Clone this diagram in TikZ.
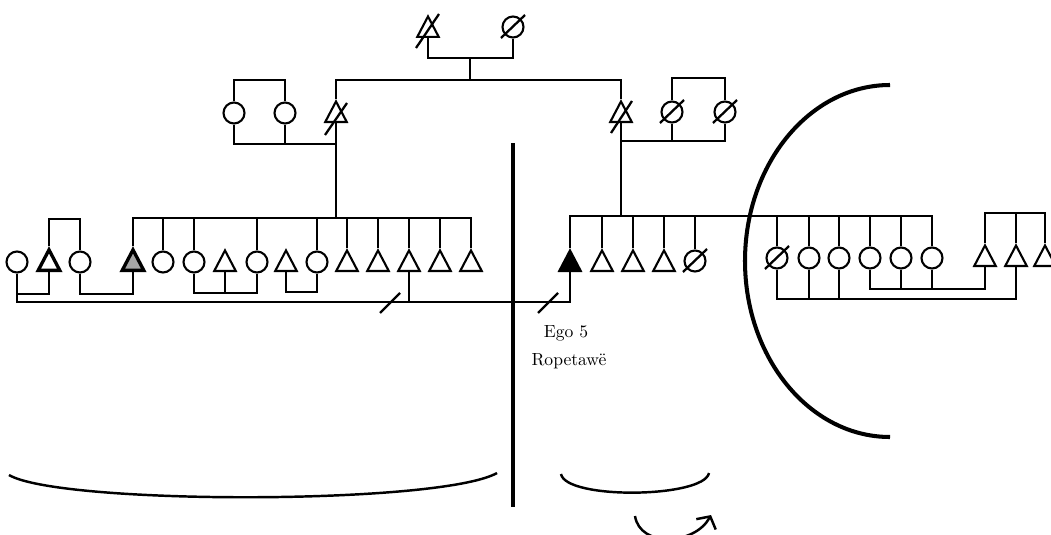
\documentclass[tikz,border=0pt]{standalone}
\usetikzlibrary{shapes.geometric, arrows.meta}

\tikzset{
  male/.style={shape=isosceles triangle, shape border rotate=90, isosceles triangle apex angle=56,
    isosceles triangle stretches, minimum width=0.43cm, minimum height=0.41cm,
    inner sep=0pt, draw, line width=1.2pt, anchor=south},
  female/.style={shape=circle, draw, line width=1.2pt, minimum size=0.42cm, inner sep=0pt},
  kin/.style={line width=1.15pt},
  slash/.style={line width=1.3pt},
  bar/.style={line width=2.3pt},
  bowl/.style={line width=1.4pt}
}

\begin{document}
\begin{tikzpicture}[x=0.02cm, y=-0.02cm]
	\useasboundingbox (0,0) rectangle (1051,534);
	\clip (0,0) rectangle (1051,534);

	% first generation
	\node[male] (gA) at (428,38){};
	\node[female] (gB) at (513,27){};
	\draw[slash] (gA.south) +(-12,10) -- +(11,-24);
	\draw[slash] (gB.center) +(-12,11) -- +(12,-12);
	\coordinate (cpl0) at (470,58);
	\coordinate (sib0) at (470,80);
	\draw[kin] (gA.south) |- (cpl0) -| (gB.south);
	\draw[kin] (cpl0) -- (sib0);

	% second generation
	\node[male] (fL) at (336,123){};
	\node[female] (wL1) at (234,113){};
	\node[female] (wL2) at (285,113){};
	\node[male] (fR) at (621,123){};
	\node[female] (wR1) at (672,112){};
	\node[female] (wR2) at (725,112){};
	\draw[slash] (fL.south) +(-11,12) -- +(11,-20);
	\draw[slash] (fR.south) +(-10,10) -- +(11,-22);
	\draw[slash] (wR1.center) +(-12,11) -- +(12,-12);
	\draw[slash] (wR2.center) +(-12,11) -- +(12,-12);
	\draw[kin] (fL.north) |- (sib0) -| (fR.north);
	\coordinate (topW) at (260,80);
	\coordinate (cplL) at (285,144);
	\draw[kin] (wL1.north) |- (topW) -| (wL2.north);
	\draw[kin] (wL1.south) |- (cplL) -| (fL.south);
	\draw[kin] (wL2.south) -- (cplL);
	\coordinate (topWR) at (698,78);
	\coordinate (cplR) at (672,141);
	\draw[kin] (wR1.north) |- (topWR) -| (wR2.north);
	\draw[kin] (fR.south) |- (cplR) -| (wR2.south);
	\draw[kin] (wR1.south) -- (cplR);

	% ego's generation, left of the bar
	\node[female] (l1) at (17,262){};
	\node[male, line width=1.9pt] (l2) at (49,272){};
	\node[female] (l3) at (80,262){};
	\node[male, line width=1.9pt, fill=black!35] (l4) at (133,272){};
	\node[female] (l5) at (163,262){};
	\node[female] (l6) at (194,262){};
	\node[male] (l7) at (225,272){};
	\node[female] (l8) at (257,262){};
	\node[male] (l9) at (286,272){};
	\node[female] (l10) at (317,262){};
	\node[male] (l11) at (347,272){};
	\node[male] (l12) at (378,272){};
	\node[male] (l13) at (409,272){};
	\node[male] (l14) at (440,272){};
	\node[male] (l15) at (471,272){};
	\coordinate (sibL) at (336,218);
	\draw[kin] (fL.south) -- (sibL);
	\draw[kin] (l4.north) |- (sibL) -| (l15.north);
	\draw[kin] (l5.north) -- (l5.north |- sibL);
	\draw[kin] (l6.north) -- (l6.north |- sibL);
	\draw[kin] (l8.north) -- (l8.north |- sibL);
	\draw[kin] (l10.north) -- (l10.north |- sibL);
	\draw[kin] (l11.north) -- (l11.north |- sibL);
	\draw[kin] (l12.north) -- (l12.north |- sibL);
	\draw[kin] (l13.north) -- (l13.north |- sibL);
	\draw[kin] (l14.north) -- (l14.north |- sibL);
	\coordinate (sib2) at (64,219);
	\draw[kin] (l2.north) |- (sib2) -| (l3.north);
	\coordinate (cpl1) at (33,294);
	\coordinate (cpl2) at (106,294);
	\coordinate (cpl3) at (225,293);
	\coordinate (cpl4) at (300,292);
	\draw[kin] (l1.south) |- (cpl1) -| (l2.south);
	\draw[kin] (l3.south) |- (cpl2) -| (l4.south);
	\draw[kin] (l6.south) |- (cpl3) -| (l8.south);
	\draw[kin] (l7.south) -- (cpl3);
	\draw[kin] (l9.south) |- (cpl4) -| (l10.south);

	% ego and his siblings
	\node[male, fill=black] (ego) at (570,272){};
	\node[male] (r1) at (602,272){};
	\node[male] (r2) at (633,272){};
	\node[male] (r3) at (664,272){};
	\node[female] (r4) at (695,261){};
	\node[female] (r5) at (777,258){};
	\node[female] (r6) at (809,258){};
	\node[female] (r7) at (839,258){};
	\node[female] (r8) at (870,258){};
	\node[female] (r9) at (901,258){};
	\node[female] (r10) at (932,258){};
	\node[male] (r11) at (985,267){};
	\node[male] (r12) at (1016,267){};
	\node[male] (r13) at (1045,267){};
	\draw[slash] (r4.center) +(-12,11) -- +(12,-12);
	\draw[slash] (r5.center) +(-12,11) -- +(12,-12);
	\coordinate (sibR) at (621,216);
	\draw[kin] (fR.south) -- (sibR);
	\draw[kin] (ego.north) |- (sibR) -| (r10.north);
	\draw[kin] (r1.north) -- (r1.north |- sibR);
	\draw[kin] (r2.north) -- (r2.north |- sibR);
	\draw[kin] (r3.north) -- (r3.north |- sibR);
	\draw[kin] (r4.north) -- (r4.north |- sibR);
	\draw[kin] (r5.north) -- (r5.north |- sibR);
	\draw[kin] (r6.north) -- (r6.north |- sibR);
	\draw[kin] (r7.north) -- (r7.north |- sibR);
	\draw[kin] (r8.north) -- (r8.north |- sibR);
	\draw[kin] (r9.north) -- (r9.north |- sibR);
	\coordinate (sibT) at (1016,213);
	\draw[kin] (r11.north) |- (sibT) -| (r13.north);
	\draw[kin] (r12.north) -- (sibT);
	\coordinate (cplA) at (901,289);
	\coordinate (cplB) at (839,299);
	\draw[kin] (r8.south) |- (cplA) -| (r11.south);
	\draw[kin] (r9.south) -- (cplA);
	\draw[kin] (r10.south) -- (r10.south |- cplA);
	\draw[kin] (r5.south) |- (cplB) -| (r12.south);
	\draw[kin] (r6.south) -- (r6.south |- cplB);
	\draw[kin] (r7.south) -- (cplB);

	% long line to ego
	\coordinate (lng) at (409,302);
	\draw[kin] (l1.south) |- (lng) -| (ego.south);
	\draw[kin] (l13.south) -- (lng);
	\draw[slash] (lng) +(-29,11) -- +(-9,-9);
	\draw[slash] (lng) +(129,11) -- +(149,-9);

	\node (egoTag) at (566,333){Ego 5};
	\node (egoName) at (569,361){Ropetawë};

	% bar, arc and bowls
	\draw[bar] (513,143) -- (513,507);
	\draw[bar] (890,85) arc[start angle=270, end angle=90, x radius=145, y radius=176];
	\draw[bowl] (9,475) .. controls (60,505) and (440,505) .. (497,473);
	\draw[bowl] (561,474) .. controls (566,500) and (704,498) .. (709,473);
	\draw[bowl, -{Straight Barb[length=1.8mm, width=4.4mm]}] (635,516) .. controls (640,548) and (695,545) .. (711,515);
\end{tikzpicture}
\end{document}
